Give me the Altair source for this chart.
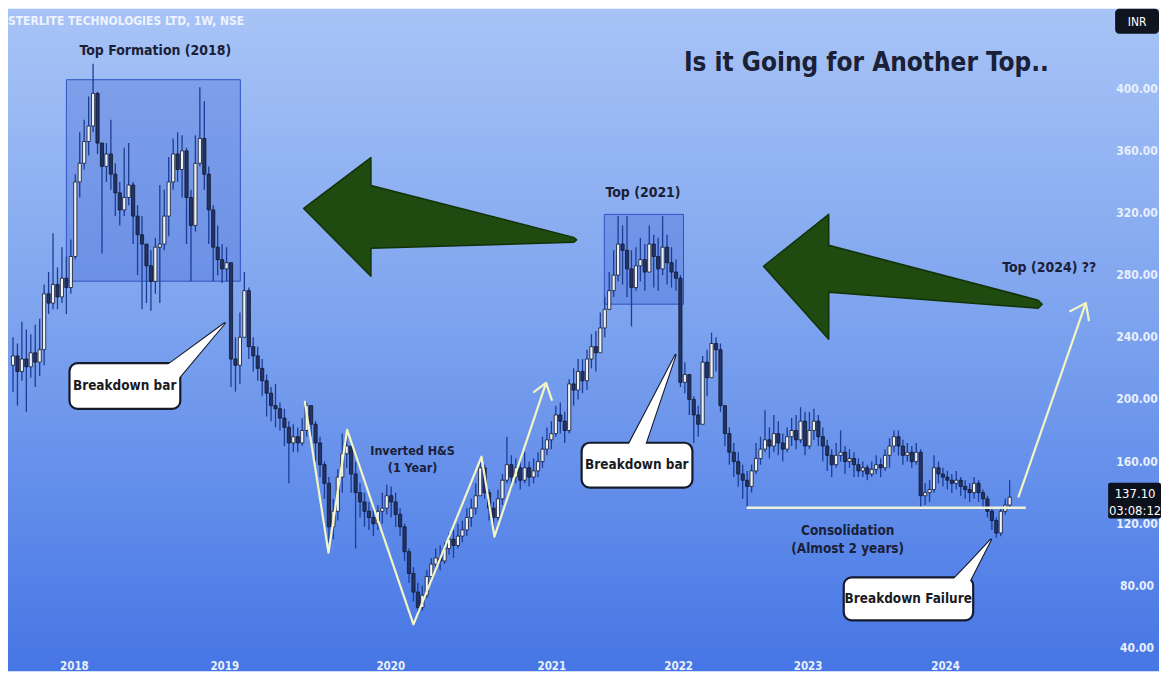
import altair as alt
import pandas as pd

# ---------------- data ----------------
first_open = 222
closes = [
    228, 218, 226, 221, 230, 224, 232, 268, 262, 274, 266, 278, 272, 292, 340,
    352, 366, 376, 397, 365, 350, 358, 345, 333, 322, 330, 338, 318, 306, 300,
    286, 276, 298, 300, 318, 340, 358, 348, 360, 330, 312, 352, 368, 345, 322,
    298, 290, 284, 288, 226, 222, 240, 270, 234, 228, 220, 212, 204, 196, 194,
    188, 182, 172, 176, 172, 180, 196, 184, 172, 158, 146, 118, 128, 150, 165,
    170, 152, 140, 134, 128, 124, 120, 128, 130, 138, 134, 126, 118, 102, 88,
    76, 66, 74, 86, 94, 98, 96, 104, 110, 106, 112, 116, 124, 130, 138,
    156, 140, 130, 124, 136, 148, 158, 150, 156, 148, 156, 150, 154, 160, 168,
    174, 178, 190, 186, 180, 210, 206, 218, 212, 226, 234, 230, 246, 258, 270,
    280, 300, 296, 284, 272, 286, 290, 282, 300, 292, 284, 298, 288, 282, 278,
    211, 216, 200, 190, 184, 224, 214, 236, 232, 196, 178, 166, 160, 152, 148,
    144, 154, 162, 168, 174, 170, 178, 172, 168, 176, 180, 174, 186, 170, 180,
    186, 176, 170, 164, 158, 164, 166, 160, 162, 158, 154, 156, 152, 155, 158,
    156, 164, 170, 176, 170, 164, 166, 160, 166, 138, 140, 142, 156, 152, 150,
    148, 146, 148, 144, 142, 140, 146, 140, 136, 128, 122, 114, 128, 132, 137.1,
]
highs = [
    240, 236, 250, 245, 242, 248, 252, 274, 282, 307, 285, 298, 292, 303, 345,
    372, 380, 395, 416, 398, 362, 365, 380, 352, 340, 362, 365, 340, 325, 318,
    300, 296, 304, 338, 335, 356, 368, 372, 370, 362, 335, 370, 401, 392, 350,
    325, 312, 300, 298, 288, 240, 256, 282, 272, 240, 234, 226, 216, 208, 210,
    198, 194, 186, 184, 182, 188, 198, 194, 186, 176, 160, 150, 136, 155, 178,
    180, 170, 160, 146, 140, 134, 130, 132, 140, 145, 144, 140, 130, 120, 104,
    92, 82, 80, 90, 98, 104, 106, 108, 114, 116, 120, 122, 130, 136, 146,
    161, 158, 142, 134, 142, 152, 176, 164, 162, 160, 166, 160, 162, 166, 176,
    182, 186, 196, 198, 192, 213, 220, 226, 226, 232, 242, 244, 256, 266, 282,
    296, 318, 312, 318, 296, 298, 304, 300, 312, 306, 304, 318, 306, 298, 290,
    280, 224, 216, 202, 196, 228, 232, 243, 240, 236, 196, 182, 172, 166, 158,
    154, 158, 172, 176, 193, 182, 190, 186, 178, 182, 188, 190, 195, 192, 192,
    194, 190, 182, 174, 168, 172, 180, 170, 168, 166, 162, 160, 158, 160, 164,
    162, 168, 175, 180, 180, 174, 172, 170, 172, 168, 146, 148, 164, 160, 156,
    154, 152, 154, 150, 148, 146, 150, 148, 142, 138, 130, 124, 130, 136, 148,
]
lows = [
    205, 196, 212, 192, 214, 208, 215, 222, 255, 258, 258, 262, 255, 268, 290,
    330, 348, 357, 372, 358, 294, 340, 335, 318, 312, 318, 325, 300, 280, 258,
    262, 257, 268, 262, 296, 305, 335, 340, 330, 300, 276, 308, 350, 335, 300,
    276, 280, 275, 276, 208, 205, 210, 240, 226, 218, 212, 202, 189, 186, 182,
    180, 170, 146, 166, 166, 170, 176, 176, 160, 150, 136, 108, 110, 122, 140,
    156, 140, 104, 124, 118, 116, 112, 116, 120, 126, 124, 118, 112, 96, 82,
    70, 62, 64, 72, 82, 90, 90, 94, 100, 98, 104, 108, 112, 118, 126,
    138, 136, 122, 116, 122, 132, 146, 142, 146, 142, 146, 144, 146, 150, 156,
    164, 168, 176, 178, 172, 178, 196, 200, 204, 206, 220, 218, 230, 240, 258,
    266, 276, 274, 266, 247, 270, 276, 270, 282, 272, 270, 280, 274, 272, 270,
    208, 204, 190, 172, 176, 190, 202, 214, 218, 192, 170, 158, 150, 144, 136,
    131, 140, 152, 158, 166, 162, 166, 164, 160, 166, 170, 168, 172, 164, 168,
    174, 170, 160, 154, 150, 156, 160, 152, 156, 150, 150, 150, 148, 150, 152,
    150, 154, 156, 166, 164, 158, 160, 156, 158, 130, 132, 134, 140, 146, 144,
    142, 140, 142, 138, 136, 134, 136, 134, 130, 124, 116, 111, 112, 126, 130,
]
year_labels = ["2018", "2019", "2020", "2021", "2022", "2023", "2024"]
year_bars = [13.8, 47.6, 84.9, 121.1, 149.6, 178.7, 209.6]
price_ticks = [40, 80, 120, 160, 200, 240, 280, 320, 360, 400]
last_price = "137.10"
countdown = "03:08:12"

# ---------------- build candle table ----------------
rows = []
prev = first_open
for i, (c, h, l) in enumerate(zip(closes, highs, lows)):
    o = prev
    rows.append(dict(i=i, o=o, c=c, h=max(h, o, c), l=min(l, o, c), up=bool(c >= o)))
    prev = c
candles = pd.DataFrame(rows)

W, H = 1154, 664
xs = alt.Scale(domain=[0, 256.44], nice=False, zero=False)
ys = alt.Scale(domain=[25.1, 451.4], nice=False, zero=False)
FONT = "DejaVu Sans Condensed, DejaVu Sans, sans-serif"
NAVY = "#1a2036"


def X(f):
    return alt.X(f, type="quantitative", scale=xs, axis=None)


def Y(f):
    return alt.Y(f, type="quantitative", scale=ys, axis=None)


one = pd.DataFrame({"k": [0]})

bg = alt.Chart(one).mark_rect(
    fill={"gradient": "linear", "x1": 0, "y1": 0, "x2": 0, "y2": 1,
          "stops": [{"offset": 0, "color": "#a8c4f6"},
                    {"offset": 0.5, "color": "#7aa1ee"},
                    {"offset": 1, "color": "#4676e5"}]}
).encode(x=alt.value(0), x2=alt.value(W), y=alt.value(0), y2=alt.value(H))

# highlight boxes
boxes = pd.DataFrame({"x1": [12.0, 132.9], "x2": [51.1, 150.7],
                      "y1": [276.1, 261.3], "y2": [405.8, 319.1]})
box_layer = alt.Chart(boxes).mark_rect(
    fill="#3d63d6", fillOpacity=0.33, stroke="#3052c4", strokeWidth=1
).encode(x=X("x1"), x2=alt.X2("x2"), y=Y("y1"), y2=alt.Y2("y2"))

# green arrows
arrows = pd.DataFrame({
    "g": ["L"] * 5 + ["R"] * 5,
    "ax": [65.33, 80.44, 80.45, 126.0, 126.67, 168.67, 183.33, 183.34, 230.4, 231.3],
    "top": [322.95, 355.7, 337.7, 304.3, 302.7, 285.7, 319.1, 299.2, 263.9, 261.3],
    "bot": [322.95, 279.3, 297.3, 301.1, 302.7, 285.7, 238.8, 269.0, 258.7, 261.3],
})
arrow_layer = alt.Chart(arrows).mark_area(
    fill="#1f4a10", stroke="#123207", strokeWidth=1.5, strokeJoin="round", opacity=1
).encode(x=X("ax"), y=Y("top"), y2=alt.Y2("bot"), detail="g:N")

# candles
wicks = alt.Chart(candles).mark_rule(color="#1d3c94", strokeWidth=1.3).encode(
    x=X("i"), y=Y("l"), y2=alt.Y2("h"))
bodies = alt.Chart(candles).mark_bar(size=3.2, stroke="#10162a", strokeWidth=0.8).encode(
    x=X("i"), y=Y("o"), y2=alt.Y2("c"),
    color=alt.condition("datum.up", alt.value("#eef1f6"), alt.value("#22336a")))

# yellow paths
lines = pd.DataFrame({
    "g": ["z"] * 7 + ["h1"] * 3 + ["a"] * 2 + ["h2"] * 3,
    "k": list(range(7)) + [0, 1, 2] + [0, 1] + [0, 1, 2],
    "x": [65.6, 70.9, 75.1, 90.0, 105.3, 108.2, 119.8, 117.1, 119.8, 121.1,
          226.0, 241.1, 237.6, 241.1, 241.8],
    "y": [198.4, 101.4, 180.4, 55.2, 163.1, 111.7, 210.6, 204.8, 210.6, 199.7,
          137.4, 262.0, 256.8, 262.0, 251.0],
})
line_layer = alt.Chart(lines).mark_line(
    color="#f3f5c6", strokeWidth=2.2, strokeJoin="round", strokeCap="round"
).encode(x=X("x"), y=Y("y"), detail="g:N", order="k:Q")

cons = pd.DataFrame({"x1": [164.9], "x2": [227.6], "y": [130.3]})
cons_layer = alt.Chart(cons).mark_rule(color="#eef2da", strokeWidth=2.5).encode(
    x=X("x1"), x2=alt.X2("x2"), y=Y("y"))

# callouts
call_boxes = pd.DataFrame({
    "x1": [12.7, 127.8, 186.7], "x2": [37.6, 152.7, 215.8],
    "y1": [193.9, 143.2, 57.8], "y2": [223.4, 172.1, 85.4],
    "tx": [25.1, 140.2, 201.2], "ty": [208.7, 157.6, 71.6],
    "text": ["Breakdown bar", "Breakdown bar", "Breakdown Failure"],
})
tails = pd.DataFrame({
    "g": ["a"] * 3 + ["b"] * 3 + ["c"] * 3,
    "x": [34.4, 36.9, 47.6, 138.2, 142.0, 148.9, 211.1, 215.1, 219.8],
    "top": [221.5, 226.6, 249.1, 170.1, 190.8, 228.6, 83.5, 95.3, 109.8],
    "bot": [221.5, 212.5, 249.1, 170.1, 170.1, 228.6, 83.5, 83.5, 109.8],
})
tail_stroke = alt.Chart(tails).mark_area(
    fill="white", stroke="#161b2c", strokeWidth=2.2, strokeJoin="round", opacity=1
).encode(x=X("x"), y=Y("top"), y2=alt.Y2("bot"), detail="g:N")
call_rect = alt.Chart(call_boxes).mark_rect(
    fill="white", stroke="#161b2c", strokeWidth=2.2, cornerRadius=8
).encode(x=X("x1"), x2=alt.X2("x2"), y=Y("y1"), y2=alt.Y2("y2"))
tail_fill = alt.Chart(tails).mark_area(fill="white", opacity=1).encode(
    x=X("x"), y=Y("top"), y2=alt.Y2("bot"), detail="g:N")
call_text = alt.Chart(call_boxes).mark_text(
    font=FONT, fontWeight="bold", fontSize=13.5, color="#1b1b1f"
).encode(x=X("tx"), y=Y("ty"), text="text:N")


def label_layer(df, size, color=NAVY):
    return alt.Chart(df).mark_text(
        font=FONT, fontWeight="bold", fontSize=size, color=color
    ).encode(x=X("x"), y=Y("y"), text="text:N")


notes_a = pd.DataFrame({
    "x": [32.0, 141.6, 232.9],
    "y": [424.4, 332.6, 284.4],
    "text": ["Top Formation (2018)", "Top (2021)", "Top (2024) ??"],
})
notes_b = pd.DataFrame({"x": [187.6, 187.6], "y": [115.6, 104.0],
                        "text": ["Consolidation", "(Almost 2 years)"]})
notes_c = pd.DataFrame({"x": [89.8, 89.8], "y": [166.9, 156.0],
                        "text": ["Inverted H&S", "(1 Year)"]})
title_df = pd.DataFrame({"x": [191.8], "y": [416.7],
                         "text": ["Is it Going for Another Top.."]})

header = alt.Chart(one).mark_text(
    font=FONT, fontWeight="bold", fontSize=12, color="#eef3ff", align="left"
).encode(x=alt.value(0), y=alt.value(12), text=alt.value("STERLITE TECHNOLOGIES LTD, 1W, NSE"))

# price axis labels (drawn inside the panel like the reference)
ticks_df = pd.DataFrame({"v": price_ticks, "label": [f"{t:.2f}" for t in price_ticks]})
yaxis = alt.Chart(ticks_df).mark_text(
    font=FONT, fontWeight="bold", fontSize=12, color="#e8efff"
).encode(x=alt.value(1132), y=Y("v"), text="label:N")

years_df = pd.DataFrame({"b": year_bars, "label": year_labels})
xaxis = alt.Chart(years_df).mark_text(
    font=FONT, fontWeight="bold", fontSize=11.5, color="#e8efff"
).encode(x=X("b"), y=alt.value(660), text="label:N")

inr_box = alt.Chart(one).mark_rect(fill="#10141f", cornerRadius=4).encode(
    x=alt.value(1110), x2=alt.value(1154), y=alt.value(0), y2=alt.value(25))
inr_txt = alt.Chart(one).mark_text(font=FONT, fontSize=12, color="white").encode(
    x=alt.value(1132), y=alt.value(13), text=alt.value("INR"))
price_box = alt.Chart(one).mark_rect(fill="#0d111c", cornerRadius=2).encode(
    x=alt.value(1103), x2=alt.value(1156), y=alt.value(475), y2=alt.value(511))
price_txt = alt.Chart(pd.DataFrame({"t": [last_price, countdown], "py": [486, 503]})).mark_text(
    font=FONT, fontSize=13, color="white"
).encode(x=alt.value(1130), y=alt.Y("py:Q", scale=None, axis=None), text="t:N")

chart = alt.layer(
    bg, box_layer, arrow_layer, wicks, bodies, line_layer, cons_layer,
    tail_stroke, call_rect, tail_fill, call_text,
    label_layer(notes_a, 14), label_layer(notes_b, 13.5), label_layer(notes_c, 12.5),
    label_layer(title_df, 26),
    header, yaxis, xaxis, inr_box, inr_txt, price_box, price_txt,
).properties(width=W, height=H, padding=0).configure_view(stroke=None)

chart.save("out.html", embed_options={"renderer": "svg", "actions": False})
